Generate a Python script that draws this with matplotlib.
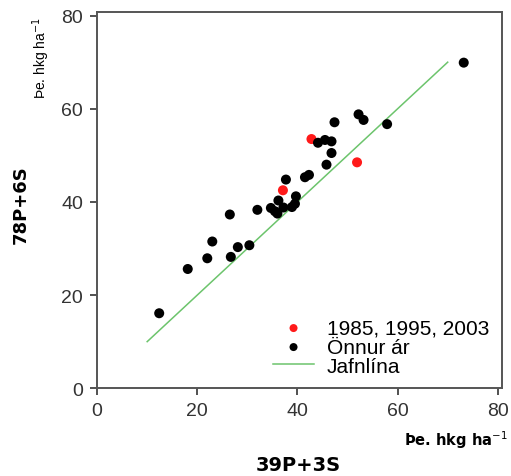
import numpy as np
import matplotlib
matplotlib.use("Agg")
import matplotlib.pyplot as plt

# black points (other years)
other_x = [12.4, 18.1, 22.0, 23.0, 26.7, 28.1, 30.4, 26.5, 32.0, 34.7,
           35.5, 36.0, 36.2, 37.2, 38.9, 39.5, 39.7, 37.7, 41.5, 42.3,
           45.8, 46.8, 44.1, 45.5, 46.8, 47.4, 52.2, 53.2, 57.9, 73.2]
other_y = [16.1, 25.6, 27.9, 31.5, 28.2, 30.3, 30.7, 37.3, 38.3, 38.7,
           38.0, 37.5, 40.3, 38.8, 38.9, 39.6, 41.2, 44.8, 45.3, 45.8,
           48.0, 50.5, 52.7, 53.3, 53.0, 57.1, 58.8, 57.6, 56.7, 69.9]

# red points (1985, 1995, 2003)
red_x = [37.1, 42.8, 51.9]
red_y = [42.5, 53.5, 48.5]

# 1:1 line
line_x = [10, 70]
line_y = [10, 70]

ticks = [0, 20, 40, 60, 80]

plt.rcParams['font.family'] = ['Liberation Sans', 'DejaVu Sans']

fig = plt.figure(figsize=(5.11, 4.77), dpi=100)
ax = fig.add_axes([0.19, 0.184, 0.792, 0.789])

ax.scatter(red_x, red_y, s=52, color='#ff1a1a', edgecolors='none',
           label='1985, 1995, 2003', zorder=3)
ax.scatter(other_x, other_y, s=52, color='black', edgecolors='none',
           label='Önnur ár', zorder=3)
ax.plot(line_x, line_y, color='#6cc46c', lw=1.1, label='Jafnlína', zorder=2)

ax.set_xlim(0, 80.8)
ax.set_ylim(0, 80.8)
ax.set_xticks(ticks)
ax.set_yticks(ticks)
ax.tick_params(labelsize=14, colors='#333333', length=5, width=1.2, pad=5)
for s in ax.spines.values():
    s.set_color('#555555')
    s.set_linewidth(1.4)

ax.legend(loc='lower right', bbox_to_anchor=(1.005, -0.005), frameon=False,
          fontsize=15, labelspacing=0.0, handletextpad=0.6,
          handlelength=2.0, borderpad=0.2, markerscale=0.8)

fig.text(0.04, 0.57, '78P+6S', rotation=90, fontsize=13, fontweight='bold',
         family='DejaVu Sans', ha='center', va='center')
fig.text(0.08, 0.878, 'Þe. hkg ha$^{-1}$', rotation=90, fontsize=10,
         ha='center', va='center')
fig.text(0.583, 0.025, '39P+3S', fontsize=14, fontweight='bold',
         family='DejaVu Sans', ha='center', va='center')
fig.text(0.892, 0.078, 'Þe. hkg ha$^{-1}$', fontsize=10.5, fontweight='bold',
         family='DejaVu Sans', ha='center', va='center')

fig.savefig('out.png', dpi=100)
